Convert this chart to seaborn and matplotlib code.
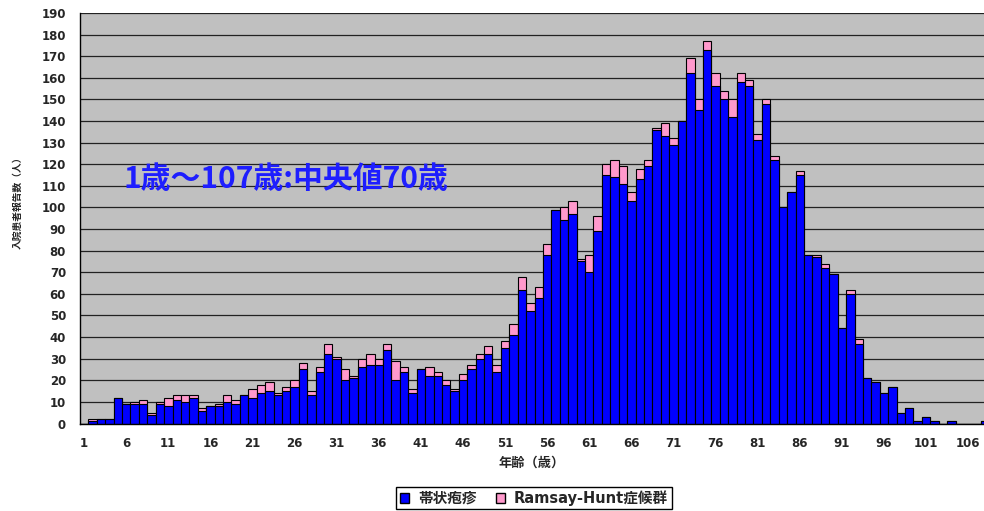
import matplotlib
matplotlib.use("Agg")
import matplotlib.pyplot as plt
from matplotlib.patches import Patch
import numpy as np
import pandas as pd
import seaborn as sns

# slots as labelled on the picture (label under slot i is i+1)
ages = list(range(1, 109))

herpes = [0, 1, 2, 2, 12, 9, 9, 9, 4, 9,
          8, 11, 10, 12, 6, 8, 8, 10, 9, 13,
          12, 14, 15, 13, 15, 17, 25, 13, 24, 32,
          30, 20, 21, 26, 27, 27, 34, 20, 24, 14,
          25, 22, 22, 18, 15, 20, 25, 30, 32, 24,
          35, 41, 62, 52, 58, 78, 99, 94, 97, 75,
          70, 89, 115, 114, 111, 103, 113, 119, 136, 133,
          129, 140, 162, 145, 173, 156, 150, 142, 158, 156,
          131, 148, 122, 100, 107, 115, 78, 77, 72, 69,
          44, 60, 37, 21, 19, 14, 17, 5, 7, 1,
          3, 1, 0, 1, 0, 0, 0, 1]

ramsay = [0, 1, 0, 0, 0, 0, 1, 2, 1, 1,
          4, 2, 3, 1, 1, 0, 1, 3, 2, 0,
          4, 4, 4, 1, 2, 3, 3, 2, 2, 5,
          1, 5, 1, 4, 5, 3, 3, 9, 2, 2,
          0, 4, 2, 2, 1, 3, 2, 2, 4, 3,
          3, 5, 6, 4, 5, 5, 0, 6, 6, 1,
          8, 7, 5, 8, 8, 4, 5, 3, 1, 6,
          3, 0, 7, 5, 4, 6, 4, 8, 4, 3,
          3, 2, 2, 0, 0, 2, 0, 1, 2, 0,
          0, 2, 2, 0, 0, 0, 0, 0, 0, 0,
          0, 0, 0, 0, 0, 0, 0, 0]

series_names = ["帯状疱疹", "Ramsay-Hunt症候群"]
note = "1歳～107歳:中央値70歳"
x_title = "年齢（歳）"
y_title = "入院患者報告数（人）"

BLUE = "#0000FF"
PINK = "#FF99CC"

df = pd.DataFrame({"age": ages, "herpes": herpes, "ramsay": ramsay})
df["total"] = df["herpes"] + df["ramsay"]

sns.set_style("white")
plt.rcParams["font.family"] = ["DejaVu Sans", "Noto Sans CJK JP"]

W, H = 984, 511
fig = plt.figure(figsize=(W / 100, H / 100), dpi=100)
x0, x1, ytop, ybot = 79.9, 984, 13, 423.5
ax = fig.add_axes([x0 / W, 1 - ybot / H, (x1 - x0) / W, (ybot - ytop) / H])
ax.set_facecolor("#C0C0C0")

sns.barplot(data=df, x="age", y="total", color=PINK, saturation=1, width=1.0,
            edgecolor="black", linewidth=0.8, errorbar=None, ax=ax)
sns.barplot(data=df, x="age", y="herpes", color=BLUE, saturation=1, width=1.0,
            edgecolor="black", linewidth=0.8, errorbar=None, ax=ax)

ax.set_xlim(-0.5, 106.88)
ax.set_ylim(0, 190)
ax.set_yticks(range(0, 191, 10))
ax.set_xticks(range(0, 108, 5))
ax.set_xticklabels([str(a) for a in ages[::5]])
ax.set_xticks(np.arange(0.5, 107, 1), minor=True)
ax.tick_params(axis="x", which="major", length=0, pad=10)
ax.tick_params(axis="x", which="minor", direction="in", length=3, width=0.8, color="black")
ax.tick_params(axis="y", length=0, pad=10)
for lab in ax.get_xticklabels() + ax.get_yticklabels():
    lab.set_fontweight("bold")
    lab.set_fontsize(8.5)

ax.yaxis.grid(True, color="#222222", linewidth=0.9)
ax.set_axisbelow(True)
for s in ["top", "right"]:
    ax.spines[s].set_visible(False)
for s in ["left", "bottom"]:
    ax.spines[s].set_color("black")
    ax.spines[s].set_linewidth(1.0)
ax.set_xlabel("")
ax.set_ylabel("")

fig.text(532 / W, 1 - 463 / H, x_title, ha="center", va="center",
         fontsize=9.5, fontweight="bold")
fig.text(18 / W, 1 - 200 / H, y_title, ha="center", va="center",
         rotation=90, fontsize=7, fontweight="bold")
fig.text(123 / W, 1 - 179 / H, note, ha="left", va="center", fontsize=21.5,
         fontweight="bold", color="#1E1EFF",
         family=["Noto Sans CJK JP", "DejaVu Sans"])

handles = [Patch(facecolor=BLUE, edgecolor="black"),
           Patch(facecolor=PINK, edgecolor="black")]
leg = fig.legend(handles, series_names, loc="center",
                 bbox_to_anchor=(534 / W, 1 - 498 / H), ncol=2, frameon=True,
                 fancybox=False, edgecolor="black", framealpha=1,
                 handlelength=0.65, handleheight=0.65, handletextpad=0.6,
                 columnspacing=1.3, borderpad=0.25,
                 prop={"weight": "bold", "size": 10.5})
leg.get_frame().set_linewidth(1.0)

fig.savefig("out.png", dpi=100)
